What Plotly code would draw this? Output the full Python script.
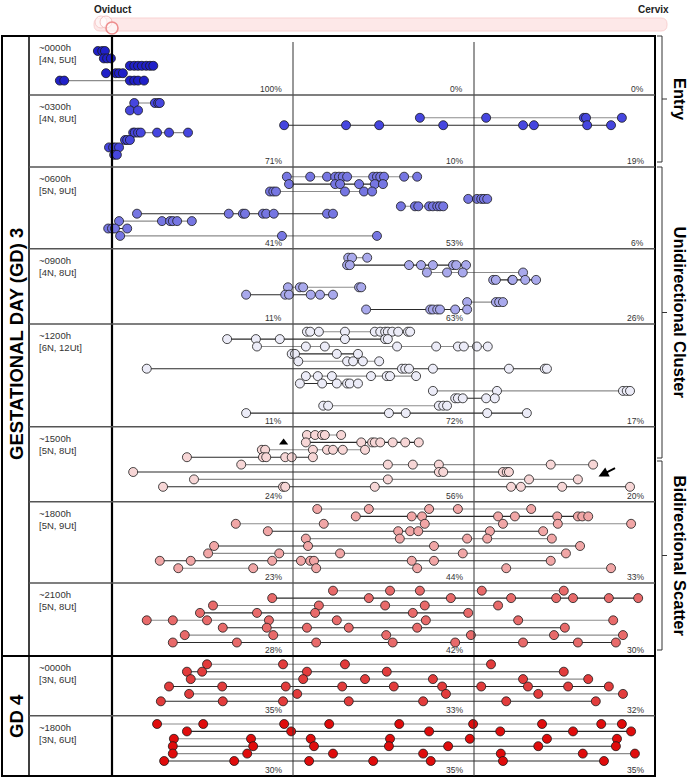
import plotly.graph_objects as go
from plotly.subplots import make_subplots

# position of each conceptus along the uterine horn, in % of length (oviduct = 0, cervix = 100)
# one inner list per uterus (track), top to bottom
gd3_0000h = [
    [-2.6, -1.8, -1.3],
    [-1.5, -0.9, -0.2],
    [3.3, 4.1, 4.8, 5.5, 6.3, 7.0, 7.6],
    [-1.1, 0.7, 1.3, 2.0],
    [-9.6, -8.8, 3.3, 4.1, 4.8, 5.9],
]
gd3_0300h = [
    [4.1, 7.9, 8.5, 8.8],
    [3.3, 4.8],
    [56.7, 68.9, 86.9, 87.3, 93.9],
    [31.7, 43.1, 49.2, 61.0, 75.7, 77.7, 87.5, 91.9],
    [3.9, 4.2, 4.8, 5.3, 8.3, 10.5, 14.0],
    [2.4, 2.8, 3.3],
    [-0.55, 0.2, 0.7, 1.3],
    [0.4, 0.9],
]
gd3_0600h = [
    [32.2, 36.5, 39.6, 41.1, 41.8, 42.5, 43.3, 48.1, 48.8, 49.4, 50.1, 53.8, 56.2],
    [32.6, 41.1, 42.0, 45.5, 48.4, 49.9],
    [29.1, 29.7, 30.2, 42.9, 46.4, 47.9],
    [65.6, 67.2, 68.0, 68.5, 69.1],
    [53.2, 55.8, 56.4, 58.4, 59.1, 59.9, 60.4, 61.0],
    [4.6, 21.5, 24.1, 24.5, 27.8, 28.4, 29.8, 39.6, 40.7],
    [1.3, 9.2, 10.7, 11.2, 12.0, 14.7],
    [-0.7, 0.0, 0.55, 2.8],
    [1.5, 31.3, 48.8],
]
gd3_0900h = [
    [43.5, 44.2, 47.0],
    [43.3, 43.8, 54.7, 56.9, 59.1, 62.8, 63.4, 65.2],
    [58.0, 61.7, 64.6, 75.7],
    [70.2, 70.7, 73.7, 73.8, 76.1, 78.1],
    [32.4, 34.6, 35.2, 45.5, 45.9],
    [24.7, 31.9, 32.6, 36.6, 38.3, 40.7],
    [65.4, 70.7, 71.3, 72.0],
    [46.8, 58.6, 59.1, 59.9, 60.4, 63.2, 65.4],
]
gd3_1200h = [
    [35.9, 36.5, 38.1, 42.9, 48.4, 49.4, 50.3, 50.8, 51.6, 52.7, 54.5, 54.9],
    [21.2, 26.5, 30.9, 42.9, 50.3, 50.8],
    [26.7, 35.7, 39.2, 52.5, 59.7, 63.7, 64.8, 67.2, 69.2],
    [33.1, 33.7, 41.4, 45.3],
    [34.3, 43.3, 44.4, 46.2, 49.2],
    [6.4, 53.4, 54.0, 54.7, 59.1, 73.1, 79.7, 80.1],
    [35.7, 37.9, 40.5, 47.7, 50.6, 51.2, 56.0],
    [34.6, 38.7, 41.4, 43.3, 43.8, 45.3],
    [59.1, 70.9, 94.1, 94.8, 95.4],
    [63.2, 63.7, 64.6, 68.9, 70.5],
    [38.9, 39.8, 60.2, 61.0, 61.7],
    [24.7, 51.0, 54.1, 69.1, 76.4],
]
gd3_1500h = [
    [35.9, 37.4, 38.7, 39.2, 42.2],
    [35.7, 45.9, 47.9, 48.4, 49.4, 51.7, 54.0, 56.5],
    [27.6, 28.2, 37.0, 39.6, 40.7, 42.5, 46.6],
    [13.8, 27.8, 28.4, 31.9, 33.1, 37.0],
    [23.8, 50.8, 55.4, 60.2, 80.8, 88.6],
    [3.9, 60.2, 61.0, 72.0, 72.7, 73.1],
    [15.1, 50.8, 76.8, 85.8],
    [9.4, 31.5, 31.9, 48.4, 73.5, 75.3, 82.9, 95.4],
]
gd3_1800h = [
    [37.8, 47.3, 58.4, 63.7, 77.2],
    [44.9, 55.2, 57.1, 71.1, 74.2, 82.0, 85.8, 86.6, 87.7],
    [22.8, 39.0, 57.6, 72.0, 82.1, 95.6],
    [28.7, 52.7, 54.9, 56.4, 69.6, 79.4],
    [35.7, 53.0, 65.4, 69.1, 81.0],
    [18.8, 36.1, 59.3, 86.2],
    [17.7, 30.8, 42.0, 64.6, 83.6],
    [8.8, 14.5, 29.5, 34.8, 36.5, 37.2, 55.2, 59.3, 80.8],
    [12.2, 26.0, 37.6, 56.2, 72.6, 91.9],
]
gd3_2100h = [
    [40.7, 51.2, 56.7, 68.1, 83.2],
    [29.5, 47.3, 62.4, 73.5, 81.8, 84.9, 91.5, 96.9],
    [18.6, 38.1, 50.3, 57.6, 71.1],
    [16.2, 26.7, 37.4, 55.4, 65.6],
    [6.4, 11.2, 17.5, 28.9, 41.4, 57.8, 74.8, 92.3],
    [20.4, 28.5, 35.9, 43.6, 56.2, 83.4],
    [13.4, 29.7, 50.5, 66.1, 81.4, 94.1],
    [11.2, 23.0, 37.6, 51.7, 63.2, 75.7, 85.8, 92.8],
]
gd4_0000h = [
    [17.5, 31.5, 42.9, 69.8],
    [13.8, 16.6, 35.9, 50.6, 83.2],
    [14.5, 35.2, 46.6, 59.1, 75.7, 87.7],
    [10.5, 20.3, 32.0, 42.4, 51.9, 60.8, 68.0, 76.6, 84.0, 91.5],
    [14.2, 34.1, 61.5, 78.5, 94.1],
    [9.0, 20.4, 31.5, 43.6, 57.3, 72.6, 89.1],
]
gd4_1800h = [
    [8.3, 16.8, 31.7, 40.0, 52.9, 66.5, 79.2, 90.1, 93.9],
    [13.8, 33.0, 58.4, 71.5, 84.9, 95.6],
    [11.4, 25.6, 36.6, 51.2, 65.9, 80.1, 93.0],
    [11.2, 26.0, 37.2, 51.0, 61.9, 78.5, 92.8],
    [11.2, 24.9, 40.7, 57.3, 71.6, 86.7, 96.3],
    [9.6, 22.5, 36.3, 48.1, 58.7, 72.0, 90.6],
]

panels = [gd3_0000h, gd3_0300h, gd3_0600h, gd3_0900h, gd3_1200h,
          gd3_1500h, gd3_1800h, gd3_2100h, gd4_0000h, gd4_1800h]
times = ["~0000h", "~0300h", "~0600h", "~0900h", "~1200h",
         "~1500h", "~1800h", "~2100h", "~0000h", "~1800h"]
nests = [4, 4, 5, 4, 6, 5, 5, 5, 3, 3]
pct_first = [100, 71, 41, 11, 11, 24, 23, 28, 35, 30]
pct_second = [0, 10, 53, 63, 72, 56, 44, 42, 33, 35]
pct_third = [0, 19, 6, 26, 17, 20, 33, 30, 32, 35]

# triangle and arrow marks in the ~1500h panel (position %, track)
triangle_mark = (31.6, 1.0)
arrow_mark = (89.6, 5.6)

colors = ["#2020c8", "#4646df", "#7676e2", "#a9a9ec", "#ececf8",
          "#f7d6d6", "#f1a6a6", "#e86a6a", "#e23c3c", "#e00c0c"]

# layout (pixels)
W, H = 692, 777
TOP, BOT, LEFT, RIGHT = 36, 776, 2, 655
heights = [59, 72, 81.7, 75.3, 102.7, 75, 81.3, 73, 59.7, 60.3]
first_row = [15, 8, 9.7, 9, 7.7, 8.3, 7.3, 7.7, 8.3, 8.3]
pitch = 7.4
OVI = 112  # pixel column of oviduct line


def px_x(px):
    return (px - LEFT) / (RIGHT - LEFT)


def px_y(py):
    return 1 - (py - TOP) / (BOT - TOP)


xr = [(LEFT - OVI) / (RIGHT - OVI) * 100, 100]

fig = make_subplots(rows=len(panels), cols=1, shared_xaxes=True,
                    vertical_spacing=0, row_heights=heights)

for i, tracks in enumerate(panels):
    r = i + 1
    for j, xs in enumerate(tracks):
        fig.add_trace(go.Scatter(
            x=xs, y=[j] * len(xs), mode="lines+markers",
            line=dict(color="#8c8c8c" if j % 2 == 0 else "#2a2a2a", width=1.1),
            marker=dict(size=9, color=colors[i], line=dict(color="#1a1a1a", width=0.8)),
            cliponaxis=False, hoverinfo="x",
        ), row=r, col=1)
    h, o = heights[i], first_row[i]
    fig.update_yaxes(range=[(h - o) / pitch, -o / pitch], row=r, col=1)

# triangle mark
fig.add_trace(go.Scatter(x=[triangle_mark[0]], y=[triangle_mark[1]], mode="markers",
                         marker=dict(symbol="triangle-up", size=8, color="black"),
                         cliponaxis=False), row=6, col=1)
fig.add_annotation(x=arrow_mark[0], y=arrow_mark[1], xref="x6", yref="y6",
                   ax=18, ay=-9, showarrow=True, arrowhead=2, arrowsize=1,
                   arrowwidth=2, arrowcolor="black", text="")

fig.update_xaxes(range=xr, visible=False, fixedrange=True)
fig.update_yaxes(visible=False, fixedrange=True)

shapes = []
# outer frame and columns
shapes.append(dict(type="rect", xref="paper", yref="paper", x0=0, x1=1, y0=0, y1=1,
                   line=dict(color="black", width=2)))
shapes.append(dict(type="line", xref="paper", yref="paper", x0=px_x(29), x1=px_x(29),
                   y0=0, y1=1, line=dict(color="black", width=1.5)))
shapes.append(dict(type="line", xref="x", yref="paper", x0=0, x1=0, y0=0, y1=1,
                   line=dict(color="black", width=2.2)))
for xv in (100 / 3, 200 / 3):
    shapes.append(dict(type="line", xref="x", yref="paper", x0=xv, x1=xv,
                       y0=0, y1=px_y(42), line=dict(color="#333", width=1)))

# panel dividers
acc = TOP
bounds = [TOP]
for h in heights:
    acc += h
    bounds.append(acc)
for k in range(1, len(heights)):
    yb = px_y(bounds[k])
    if k == 8:
        shapes.append(dict(type="line", xref="paper", yref="paper", x0=0, x1=1,
                           y0=yb, y1=yb, line=dict(color="black", width=2.2)))
    else:
        shapes.append(dict(type="line", xref="paper", yref="paper", x0=px_x(29), x1=1,
                           y0=yb, y1=yb, line=dict(color="#555", width=1.4)))

# right-hand brackets
groups = [("Entry", 36, 162), ("Unidirectional Cluster", 167, 458),
          ("Bidirectional Scatter", 461, 650)]
bx = 662
for name, y0, y1 in groups:
    ym = (y0 + y1) / 2
    for (xa, ya, xb, yb) in [(657, y0, bx, y0), (bx, y0, bx, y1), (657, y1, bx, y1),
                             (bx, ym, 667, ym)]:
        shapes.append(dict(type="line", xref="paper", yref="paper",
                           x0=px_x(xa), x1=px_x(xb), y0=px_y(ya), y1=px_y(yb),
                           line=dict(color="#333", width=1)))

# header bar (rounded) and conceptus rings
bl, br_, bt, bb, rr = 94, 667, 18, 31, 6
path = (f"M {px_x(bl + rr)} {px_y(bt)} L {px_x(br_ - rr)} {px_y(bt)} "
        f"Q {px_x(br_)} {px_y(bt)} {px_x(br_)} {px_y(bt + rr)} "
        f"L {px_x(br_)} {px_y(bb - rr)} Q {px_x(br_)} {px_y(bb)} {px_x(br_ - rr)} {px_y(bb)} "
        f"L {px_x(bl + rr)} {px_y(bb)} Q {px_x(bl)} {px_y(bb)} {px_x(bl)} {px_y(bb - rr)} "
        f"L {px_x(bl)} {px_y(bt + rr)} Q {px_x(bl)} {px_y(bt)} {px_x(bl + rr)} {px_y(bt)} Z")
shapes.append(dict(type="path", xref="paper", yref="paper", path=path,
                   fillcolor="#fde8e8", line=dict(color="#f9d2d2", width=1)))
for cx, cy, col, w in [(101, 22, "#f6cccc", 1), (106, 22, "#f3c0c0", 1), (112, 28, "#ee8e8e", 1.6)]:
    shapes.append(dict(type="circle", xref="paper", yref="paper",
                       x0=px_x(cx - 6), x1=px_x(cx + 6), y0=px_y(cy + 6), y1=px_y(cy - 6),
                       fillcolor="rgba(255,255,255,0.5)", line=dict(color=col, width=w)))

annotations = []
FONT = "Arial, Liberation Sans, sans-serif"
for i, tracks in enumerate(panels):
    ytop = px_y(bounds[i])
    ybot = px_y(bounds[i + 1])
    annotations.append(dict(
        xref="paper", yref="paper", x=px_x(37), y=ytop, xanchor="left", yanchor="top",
        yshift=-4, align="left", showarrow=False,
        text=f"{times[i]}<br>[{nests[i]}N, {len(tracks)}Ut]",
        font=dict(family=FONT, size=9.5, color="#333")))
    for xv, val in zip((100 / 3, 200 / 3, 100), (pct_first[i], pct_second[i], pct_third[i])):
        annotations.append(dict(
            xref="x", yref="paper", x=xv, y=ybot, xanchor="right", yanchor="bottom",
            xshift=-9, yshift=-1, showarrow=False, text=f"{val}%",
            font=dict(family=FONT, size=8.5, color="#333")))


def label(text, px, py, size, angle=0, color="black"):
    return dict(xref="paper", yref="paper", x=px_x(px), y=px_y(py),
                xanchor="center", yanchor="middle", text=text, textangle=angle,
                showarrow=False, font=dict(family=FONT, size=size, color=color))


annotations.append(label("<b>GESTATIONAL DAY (GD) 3</b>", 16, 344, 18.5, -90))
annotations.append(label("<b>GD 4</b>", 16, 716, 18.5, -90))
for name, y0, y1 in groups:
    annotations.append(label(f"<b>{name}</b>", 680, (y0 + y1) / 2, 16.5, 90))
annotations.append(label("<b>Oviduct</b>", 113, 9, 10, color="#222"))
annotations.append(label("<b>Cervix</b>", 653, 9, 10, color="#222"))

fig.update_layout(
    width=W, height=H,
    margin=dict(l=LEFT, r=W - RIGHT, t=TOP, b=H - BOT, pad=0),
    plot_bgcolor="white", paper_bgcolor="white",
    showlegend=False, shapes=shapes, annotations=fig.layout.annotations + tuple(annotations),
)

fig.write_html("out.html", config={"displayModeBar": False},
               post_script="document.body.style.margin='0';")
